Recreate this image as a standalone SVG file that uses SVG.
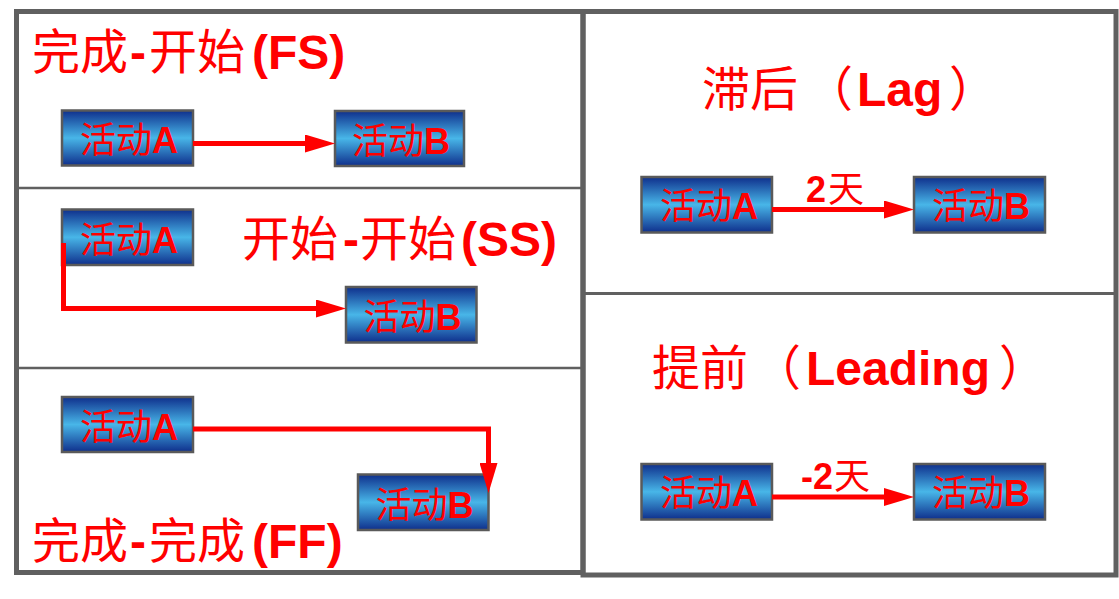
<svg xmlns="http://www.w3.org/2000/svg" width="1119" height="599" viewBox="0 0 1119 599">
<style>
.panel{fill:none;stroke:#606060;stroke-width:5}
.div{stroke:#606060;stroke-width:2.5}
.box{fill:url(#bg);stroke:#5a5a5a;stroke-width:2.5}
.bt{font-family:'Liberation Sans','Noto Sans CJK SC',sans-serif;font-size:36px;fill:#ff0000;text-anchor:middle}
.title{font-family:'Liberation Sans','Noto Sans CJK SC',sans-serif;font-size:48px;fill:#ff0000}
.lbl{font-family:'Liberation Sans','Noto Sans CJK SC',sans-serif;font-size:36px;fill:#ff0000}
.cn{font-family:'Noto Sans CJK SC',sans-serif;font-weight:normal}
.la{font-weight:bold}
.conn{fill:none;stroke:#ff0000;stroke-width:5;stroke-linejoin:miter;marker-end:url(#ah)}
</style>
<defs>
<linearGradient id="bg" x1="0" y1="0" x2="0" y2="1">
<stop offset="0" stop-color="#0f2f8c"/>
<stop offset="0.5" stop-color="#48b6e8"/>
<stop offset="1" stop-color="#0f2f8c"/>
</linearGradient>
<marker id="ah" markerUnits="userSpaceOnUse" markerWidth="30" markerHeight="18" refX="10" refY="9" orient="auto" viewBox="0 0 30 18">
<path d="M0,0 L30,9 L0,18 z" fill="#ff0000"/>
</marker>
</defs>
<rect width="1119" height="599" fill="#ffffff"/>
<g id="frame">
<rect class="panel" x="16.5" y="11.5" width="566.5" height="561"/>
<rect class="panel" x="583" y="11.5" width="533" height="563.5"/>
<line class="div" x1="17" y1="188" x2="583" y2="188"/>
<line class="div" x1="17" y1="368" x2="583" y2="368"/>
<line class="div" x1="583" y1="293.5" x2="1116" y2="293.5" style="stroke-width:3"/>
</g>
<g id="titles">
<text class="title" y="69"><tspan class="cn" x="32">完成</tspan><tspan class="la" x="130">-</tspan><tspan class="cn" x="149">开始</tspan><tspan class="la" x="252">(FS)</tspan></text>
<text class="title" y="255.5"><tspan class="cn" x="242">开始</tspan><tspan class="la" x="343">-</tspan><tspan class="cn" x="360">开始</tspan><tspan class="la" x="461">(SS)</tspan></text>
<text class="title" y="557.5"><tspan class="cn" x="32">完成</tspan><tspan class="la" x="130">-</tspan><tspan class="cn" x="149">完成</tspan><tspan class="la" x="252">(FF)</tspan></text>
<text class="title" y="106"><tspan class="cn" x="702">滞后</tspan><tspan class="cn" x="805">（</tspan><tspan class="la" x="857">Lag</tspan><tspan class="cn" x="949">）</tspan></text>
<text class="title" y="384.5"><tspan class="cn" x="652">提前</tspan><tspan class="cn" x="753">（</tspan><tspan class="la" x="806">Leading</tspan><tspan class="cn" x="999">）</tspan></text>
</g>
<g id="fs-a"><rect class="box" x="62" y="110.5" width="131" height="55"/><text class="bt" x="129" y="153"><tspan class="cn">活动</tspan><tspan class="la">A</tspan></text></g>
<g id="fs-b"><rect class="box" x="335" y="111" width="129" height="55"/><text class="bt" x="401" y="153.5"><tspan class="cn">活动</tspan><tspan class="la">B</tspan></text></g>
<g id="ss-a"><rect class="box" x="62" y="209.5" width="131" height="55.5"/><text class="bt" x="129" y="252.5"><tspan class="cn">活动</tspan><tspan class="la">A</tspan></text></g>
<g id="ss-b"><rect class="box" x="346" y="287" width="130.5" height="55.5"/><text class="bt" x="412.5" y="330"><tspan class="cn">活动</tspan><tspan class="la">B</tspan></text></g>
<g id="ff-a"><rect class="box" x="62" y="397" width="131" height="55"/><text class="bt" x="129" y="439.5"><tspan class="cn">活动</tspan><tspan class="la">A</tspan></text></g>
<g id="ff-b"><rect class="box" x="358" y="474.5" width="130.5" height="55.5"/><text class="bt" x="424.5" y="517.5"><tspan class="cn">活动</tspan><tspan class="la">B</tspan></text></g>
<g id="lag-a"><rect class="box" x="641.5" y="177" width="130.5" height="55.5"/><text class="bt" x="709" y="219"><tspan class="cn">活动</tspan><tspan class="la">A</tspan></text></g>
<g id="lag-b"><rect class="box" x="914" y="177" width="131" height="55.5"/><text class="bt" x="981" y="219"><tspan class="cn">活动</tspan><tspan class="la">B</tspan></text></g>
<g id="lead-a"><rect class="box" x="641.5" y="464" width="130.5" height="55.5"/><text class="bt" x="709" y="506"><tspan class="cn">活动</tspan><tspan class="la">A</tspan></text></g>
<g id="lead-b"><rect class="box" x="914" y="464" width="131" height="55.5"/><text class="bt" x="981" y="506"><tspan class="cn">活动</tspan><tspan class="la">B</tspan></text></g>
<g id="connectors">
<path class="conn" d="M193,143.5 H315"/>
<path class="conn" d="M63.5,243 V308.5 H326"/>
<path class="conn" d="M193,429 H488.5 V473"/>
<path class="conn" d="M772,209.5 H894"/>
<path class="conn" d="M772,497 H894"/>
<text class="lbl" y="202"><tspan class="la" x="806">2</tspan><tspan class="cn" x="828">天</tspan></text>
<text class="lbl" y="489"><tspan class="la" x="801">-2</tspan><tspan class="cn" x="834">天</tspan></text>
</g>
</svg>
